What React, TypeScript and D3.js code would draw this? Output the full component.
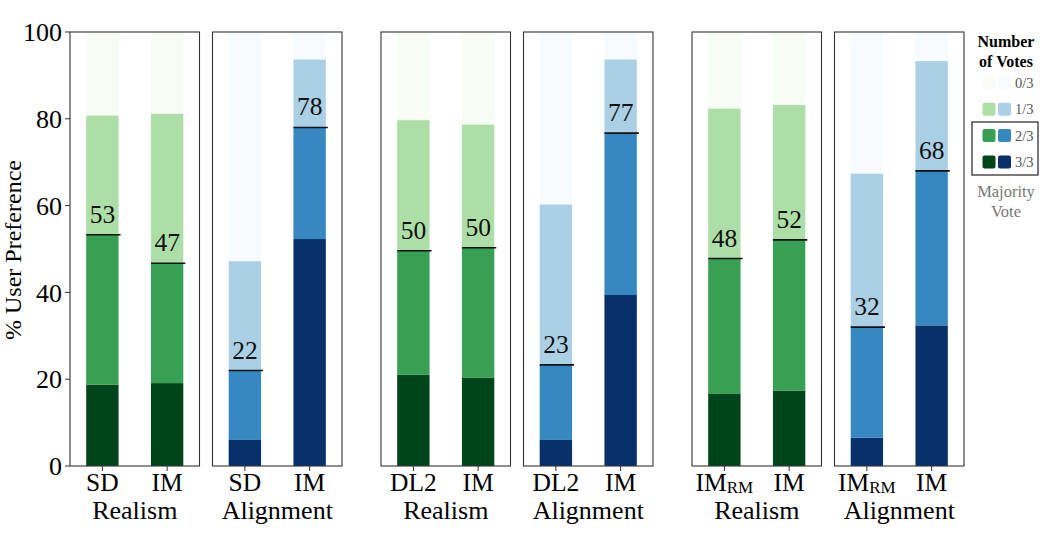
import * as d3 from "d3";

// one entry per panel
const panelTasks = ["Realism", "Alignment", "Realism", "Alignment", "Realism", "Alignment"];
const panelMethods = [
  ["SD", "IM"],
  ["SD", "IM"],
  ["DL2", "IM"],
  ["DL2", "IM"],
  ["IM_RM", "IM"],
  ["IM_RM", "IM"],
];
// segment shares (%) per bar, ordered 3/3, 2/3, 1/3, 0/3
const votes3of3 = [[18.7, 19.1], [6.0, 52.3], [21.0, 20.3], [6.0, 39.4], [16.6, 17.4], [6.5, 32.4]];
const votes2of3 = [[34.6, 27.6], [16.0, 25.7], [28.6, 30.0], [17.3, 37.3], [31.2, 34.7], [25.5, 35.6]];
const votes1of3 = [[27.5, 34.5], [25.2, 15.7], [30.1, 28.4], [37.0, 17.0], [34.6, 31.1], [35.4, 25.3]];
const votes0of3 = [[19.2, 18.8], [52.8, 6.3], [20.3, 21.3], [39.7, 6.3], [17.6, 16.8], [32.6, 6.7]];
const voteLevels = ["0/3", "1/3", "2/3", "3/3"];
const yTicks = [0, 20, 40, 60, 80, 100];

const greens = ["#f7fcf5", "#addea7", "#37a055", "#00441b"];
const blues = ["#f7fbff", "#abd0e6", "#3787c0", "#08306b"];

const W = 1053;
const H = 539;
const FONT = "'Liberation Serif', 'DejaVu Serif', serif";
const PW = 129.5;
const X0 = 70;

const panelX = (i: number) => X0 + Math.floor(i / 2) * (2 * PW + 52) + (i % 2) * (PW + 13);

export default function App() {
  const y = d3.scaleLinear().domain([0, 100]).range([466, 32]);
  const xb = d3.scaleBand<number>().domain([0, 1]).range([0, PW]).paddingInner(0.5).paddingOuter(0.25);
  const bw = xb.bandwidth();

  const label = (m: string, cx: number) => {
    if (m.includes("_")) {
      const [a, b] = m.split("_");
      return (
        <text x={cx} y={491} textAnchor="middle" fontSize={25.5}>
          {a}
          <tspan fontSize={17} dy={2}>{b}</tspan>
        </text>
      );
    }
    return (
      <text x={cx} y={491} textAnchor="middle" fontSize={25.5}>
        {m}
      </text>
    );
  };

  return (
    <svg width={W} height={H} style={{ position: "absolute", left: 0, top: 0 }} fontFamily={FONT}>
      <rect width={W} height={H} fill="#fff" />
      {panelTasks.map((task, p) => {
        const px = panelX(p);
        const cols = task === "Realism" ? greens : blues;
        return (
          <g key={p}>
            {panelMethods[p].map((m, j) => {
              const segs = [votes3of3[p][j], votes2of3[p][j], votes1of3[p][j], votes0of3[p][j]];
              const stack = d3.cumsum(segs);
              const bx = px + (xb(j) ?? 0);
              const maj = stack[1];
              return (
                <g key={j}>
                  {segs.map((s, k) => {
                    const lo = k === 0 ? 0 : stack[k - 1];
                    const hi = Math.min(100, stack[k]);
                    return (
                      <rect
                        key={k}
                        x={bx}
                        y={y(hi)}
                        width={bw}
                        height={y(lo) - y(hi)}
                        fill={cols[3 - k]}
                      />
                    );
                  })}
                  <line x1={bx} x2={bx + bw + 2} y1={y(maj)} y2={y(maj)} stroke="#111" strokeWidth={1.6} />
                  <text x={bx + bw / 2} y={y(maj) - 12} textAnchor="middle" fontSize={25.5} fill="#111">
                    {Math.round(maj)}
                  </text>
                  <line x1={bx + bw / 2} x2={bx + bw / 2} y1={466} y2={471} stroke="#333" />
                  {label(m, bx + bw / 2)}
                </g>
              );
            })}
            <rect x={px} y={32} width={PW} height={434} fill="none" stroke="#333" strokeWidth={1.1} />
            <text x={px + PW / 2} y={519} textAnchor="middle" fontSize={26}>
              {task}
            </text>
          </g>
        );
      })}
      {yTicks.map((t) => (
        <g key={t}>
          <line x1={X0 - 5} x2={X0} y1={y(t)} y2={y(t)} stroke="#333" />
          <text x={X0 - 8} y={y(t)} dy="0.35em" textAnchor="end" fontSize={26}>
            {t}
          </text>
        </g>
      ))}
      <text transform={`translate(21,250) rotate(-90)`} textAnchor="middle" fontSize={24}>
        % User Preference
      </text>
      <g>
        <text x={1006} y={47} textAnchor="middle" fontSize={16} fontWeight="bold">
          Number
        </text>
        <text x={1006} y={67} textAnchor="middle" fontSize={16} fontWeight="bold">
          of Votes
        </text>
        {voteLevels.map((v, i) => {
          const cy = 83 + i * 26.3;
          return (
            <g key={v}>
              <rect x={982.5} y={cy - 6.5} width={13} height={13} rx={2} fill={greens[i]} />
              <rect x={998} y={cy - 6.5} width={13} height={13} rx={2} fill={blues[i]} />
              <text x={1015} y={cy} dy="0.35em" fontSize={14.5} fill="#555">
                {v}
              </text>
            </g>
          );
        })}
        <rect x={972} y={122} width={66} height={53} fill="none" stroke="#222" strokeWidth={1.2} />
        <text x={1006} y={196.5} textAnchor="middle" fontSize={16.5} fill="#777">
          Majority
        </text>
        <text x={1006} y={217} textAnchor="middle" fontSize={16.5} fill="#777">
          Vote
        </text>
      </g>
    </svg>
  );
}
